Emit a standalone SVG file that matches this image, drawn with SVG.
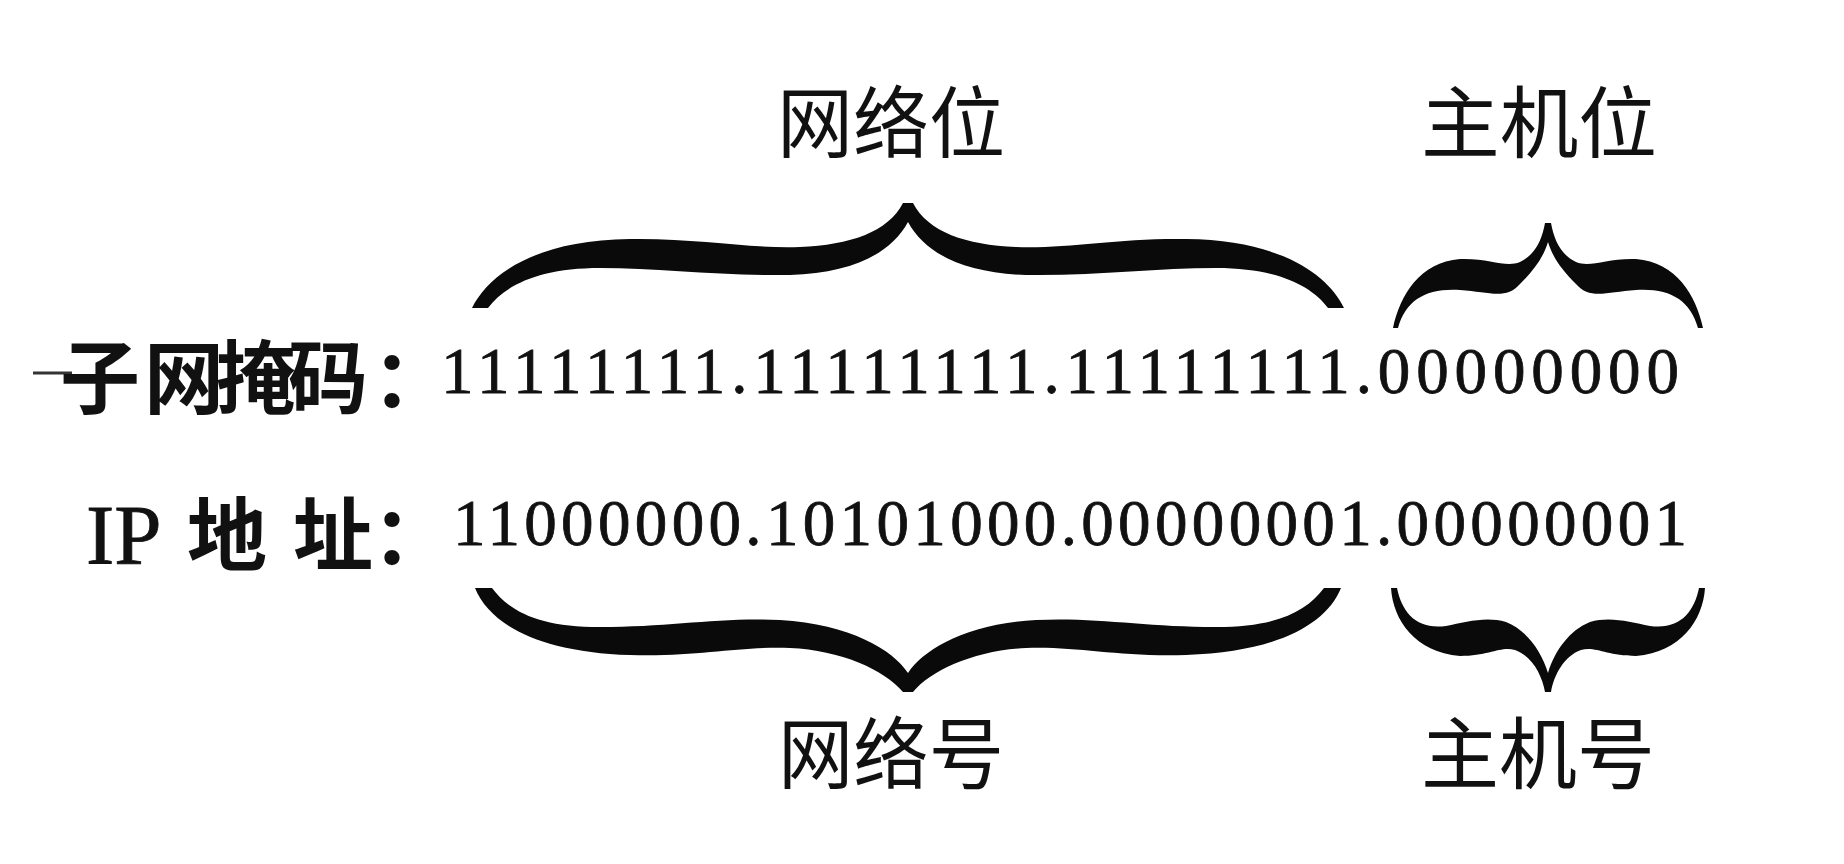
<svg xmlns="http://www.w3.org/2000/svg" width="1844" height="864" viewBox="0 0 1844 864">
<style>
.cjk{font-family:"Noto Sans CJK SC","Noto Sans",sans-serif;fill:#111}
.lbl{font-size:78px;font-weight:400}
.row{font-size:80px;font-weight:700}
.num{font-family:"Liberation Serif","Times New Roman",serif;font-size:65px;fill:#111;stroke:#111;stroke-width:0.8}
.ip{font-family:"Liberation Serif","Times New Roman",serif;font-size:85px;fill:#111;stroke:#111;stroke-width:0.8}
.brace{fill:#0a0a0a;stroke:none}
</style>
<rect width="1844" height="864" fill="#ffffff"/>
<g id="label-network-bits"><text class="cjk lbl" x="777" y="152" textLength="228" lengthAdjust="spacingAndGlyphs">网络位</text></g>
<g id="label-host-bits"><text class="cjk lbl" x="1421" y="152" textLength="236" lengthAdjust="spacingAndGlyphs">主机位</text></g>
<g id="label-network-id"><text class="cjk lbl" x="778" y="783" textLength="226" lengthAdjust="spacingAndGlyphs">网络号</text></g>
<g id="label-host-id"><text class="cjk lbl" x="1421" y="783" textLength="234" lengthAdjust="spacingAndGlyphs">主机号</text></g>
<g id="row-mask">
<line x1="33" y1="373" x2="72" y2="373" stroke="#333" stroke-width="3"/>
<text class="cjk row" x="60 144 216 288 372" y="407">子网掩码：</text>
<text class="num" x="441" y="393" textLength="1238" lengthAdjust="spacing">11111111.11111111.11111111.00000000</text>
</g>
<g id="row-ip">
<text y="564"><tspan class="ip" x="86">IP</tspan><tspan class="cjk row" x="187">地</tspan><tspan class="cjk row" x="293">址</tspan><tspan class="cjk row" x="372">：</tspan></text>
<text class="num" x="453" y="545" textLength="1234" lengthAdjust="spacing">11000000.10101000.00000001.00000001</text>
</g>
<g id="connectors">
<path id="brace-top-network" class="brace" d="M472,308 C488,275 535,240 630,239 C700,238 750,249 800,247 C850,245 888,232 903,203 L913,203 C928,232 966,245 1016,247 C1066,249 1116,238 1186,239 C1281,240 1328,275 1344,308 L1328,308 C1311,285 1276,268 1216,268 C1156,268 1096,276 1026,275 C966,273 926,255 908,222 C890,255 850,273 790,275 C720,276 660,268 600,268 C540,268 505,285 488,308 Z"/>
<path id="brace-top-host" class="brace" d="M1393,328 C1400,295 1420,262 1460,259 C1490,258 1505,268 1520,262 C1535,255 1542,240 1545,223 L1551,223 C1554,240 1561,255 1576,262 C1591,268 1606,258 1636,259 C1676,262 1696,295 1703,328 L1698,328 C1690,300 1670,288 1636,290 C1606,292 1590,300 1576,284 C1562,270 1553,258 1548,242 C1543,258 1534,270 1520,284 C1506,300 1490,292 1460,290 C1426,288 1406,300 1398,328 Z"/>
<path id="brace-bottom-network" class="brace" d="M475,588 C490,625 540,652 630,655 C700,657 740,646 790,648 C840,650 885,670 903,692 L913,692 C931,670 976,650 1026,648 C1076,646 1116,657 1186,655 C1276,652 1326,625 1341,588 L1324,588 C1306,612 1276,627 1216,627 C1146,627 1096,617 1036,620 C966,624 923,650 908,673 C893,650 850,624 780,620 C720,617 670,627 600,627 C540,627 510,612 492,588 Z"/>
<path id="brace-bottom-host" class="brace" d="M1391,588 C1393,620 1415,652 1460,656 C1490,656 1500,646 1515,650 C1532,656 1542,675 1545,692 L1551,692 C1554,675 1564,656 1581,650 C1596,646 1606,656 1636,656 C1681,652 1703,620 1705,588 L1699,588 C1694,612 1680,630 1650,626 C1630,622 1610,616 1590,622 C1570,630 1555,650 1548,673 C1541,650 1526,630 1506,622 C1486,616 1466,622 1446,626 C1416,630 1402,612 1397,588 Z"/>
</g>
</svg>
